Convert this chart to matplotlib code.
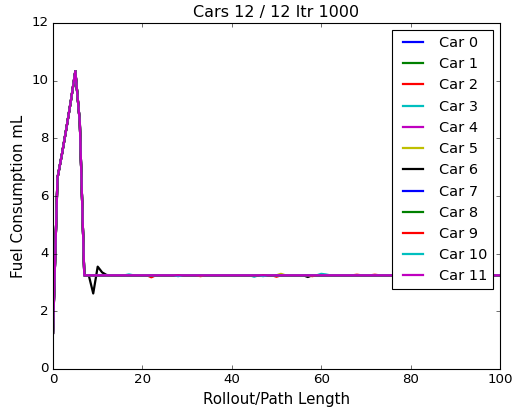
import matplotlib
matplotlib.use('Agg')
import matplotlib.pyplot as plt
import numpy as np

plt.style.use('classic')

n_cars = 12
n_steps = 101
rollout = np.arange(n_steps)

# shared start of every car's curve (steps 0..7), then plateau
head = [1.25, 6.62, 7.45, 8.35, 9.3, 10.33, 8.55, 3.25]
plateau = 3.25

deviations = {
    0: {},
    1: {},
    2: {22: 3.18, 50: 3.2, 68: 3.27, 72: 3.27},
    3: {17: 3.28, 45: 3.2, 60: 3.3, 61: 3.28},
    4: {},
    5: {51: 3.3},
    6: {8: 3.25, 9: 2.62, 10: 3.55, 11: 3.35, 12: 3.26, 57: 3.19},
    7: {},
    8: {},
    9: {33: 3.22, 58: 3.22, 80: 3.22},
    10: {28: 3.22, 47: 3.22},
    11: {},
}

colors = ['b', 'g', 'r', 'c', 'm', 'y', 'k']

fig = plt.figure(figsize=(516 / 80, 410 / 80), dpi=80, facecolor='white')
ax = fig.add_axes([53 / 516, 41 / 410, 447 / 516, 346 / 410])

for car in range(n_cars):
    fuel = np.full(n_steps, plateau)
    fuel[:len(head)] = head
    for step, val in deviations[car].items():
        fuel[step] = val
    ax.plot(rollout, fuel, color=colors[car % 7], lw=2, label='Car %d' % car)

ax.set_xlim(0, 100)
ax.set_ylim(0, 12)
ax.set_title('Cars 12 / 12 Itr 1000')
ax.set_xlabel('Rollout/Path Length', fontsize=13.5)
ax.set_ylabel('Fuel Consumption mL', fontsize=13.5)
ax.legend(loc='upper right', fontsize=13)

fig.savefig('out.png', dpi=80, facecolor='white')
